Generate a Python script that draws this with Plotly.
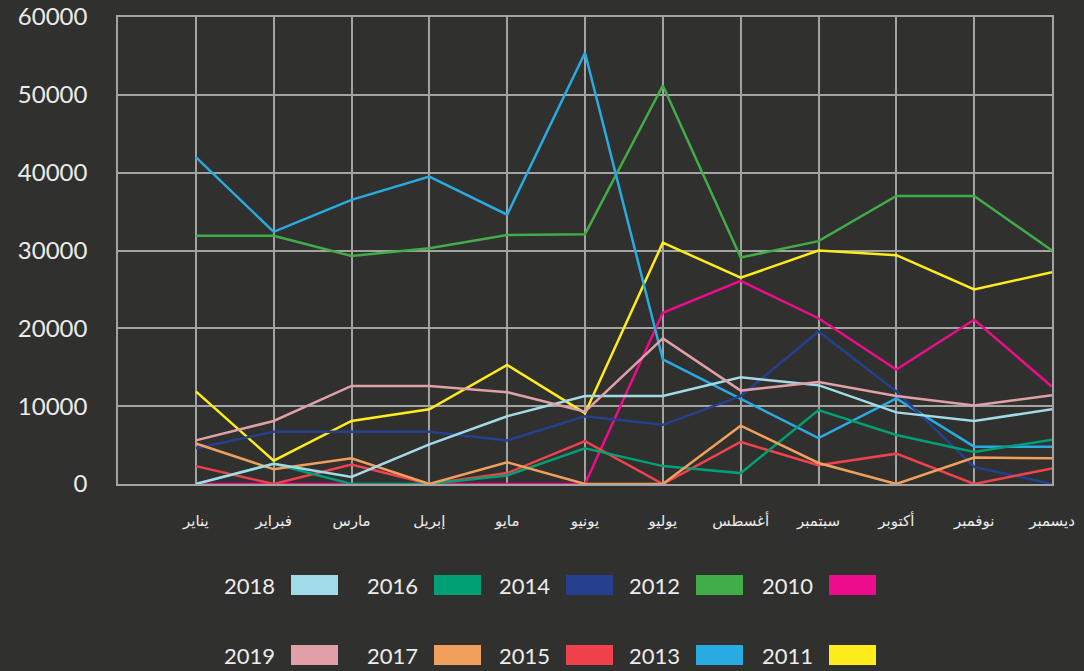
import plotly.graph_objects as go

months = ["يناير", "فبراير", "مارس", "إبريل", "مايو", "يونيو",
          "يوليو", "أغسطس", "سبتمبر", "أكتوبر", "نوفمبر", "ديسمبر"]

y2010 = [0, 0, 0, 0, 0, 0, 22000, 26100, 21300, 14700, 21100, 12500]
y2011 = [11900, 3000, 8100, 9600, 15300, 9100, 31000, 26500, 30000, 29400, 25000, 27200]
y2012 = [31900, 31900, 29300, 30300, 32000, 32100, 51200, 29100, 31200, 37000, 37000, 30000]
y2013 = [42000, 32400, 36500, 39500, 34600, 55400, 16000, 11000, 5900, 11000, 4800, 4800]
y2014 = [4600, 6700, 6700, 6700, 5600, 8700, 7600, 11300, 19600, 11900, 2200, 0]
y2015 = [2300, 0, 2500, 0, 1400, 5500, 0, 5400, 2400, 3900, 0, 2000]
y2016 = [0, 2600, 0, 0, 1100, 4600, 2300, 1400, 9500, 6300, 4100, 5700]
y2017 = [5200, 1900, 3300, 0, 2800, 0, 0, 7500, 2700, 0, 3400, 3300]
y2018 = [0, 2600, 900, 5100, 8700, 11300, 11300, 13700, 12700, 9200, 8100, 9600]
y2019 = [5600, 8100, 12600, 12600, 11800, 9300, 18700, 12000, 13100, 11300, 10100, 11400]

years = ["2010", "2011", "2012", "2013", "2014", "2015", "2016", "2017", "2018", "2019"]
series = [y2010, y2011, y2012, y2013, y2014, y2015, y2016, y2017, y2018, y2019]
colors = ["#ec0c8c", "#ffec1c", "#41ad49", "#29abe2", "#25408f",
          "#ef424d", "#00a075", "#f1a05c", "#a2dbe8", "#e0a0a8"]

y_ticks = [0, 10000, 20000, 30000, 40000, 50000, 60000]

BG = "#30302e"
GRID = "#a3a3a3"
TXT = "#ececec"

fig = go.Figure()
for yr, vals, col in zip(years, series, colors):
    fig.add_trace(go.Scatter(x=months, y=vals, mode="lines", name=yr,
                             line=dict(color=col, width=2.5), showlegend=False))

W, H = 1084, 671
L, R, T, B = 118, 32, 17, 187
pw, ph = W - L - R, H - T - B

# Custom legend: text then coloured box (RTL style)
legend_rows = [["2018", "2016", "2014", "2012", "2010"],
               ["2019", "2017", "2015", "2013", "2011"]]
box_left_px = [291, 434, 566, 696, 829]
row_center_px = [585, 655]
box_w, box_h = 47, 20
shapes = []
annotations = []
for r, row in enumerate(legend_rows):
    cy = row_center_px[r]
    for c, yr in enumerate(row):
        col = colors[years.index(yr)]
        x0 = box_left_px[c]
        shapes.append(dict(type="rect", xref="paper", yref="paper",
                           x0=(x0 - L) / pw, x1=(x0 + box_w - L) / pw,
                           y0=(H - B - (cy + box_h / 2)) / ph,
                           y1=(H - B - (cy - box_h / 2)) / ph,
                           fillcolor=col, line=dict(width=0)))
        annotations.append(dict(text=yr, xref="paper", yref="paper",
                                x=(x0 - 14 - L) / pw, y=(H - B - cy) / ph,
                                xanchor="right", yanchor="middle", showarrow=False,
                                font=dict(family="Lato, Open Sans, sans-serif", size=22, color=TXT)))

fig.update_layout(
    width=W, height=H,
    margin=dict(l=L, r=R, t=T, b=B, autoexpand=False),
    paper_bgcolor=BG, plot_bgcolor=BG,
    shapes=shapes, annotations=annotations,
    xaxis=dict(type="category", range=[-1, 11], showgrid=True, gridcolor=GRID, gridwidth=1.5,
               showline=True, linecolor=GRID, linewidth=1.5, mirror=True, automargin=False,
               ticks="", ticklabelstandoff=22,
               tickfont=dict(family="DejaVu Sans, sans-serif", size=15, color=TXT)),
    yaxis=dict(range=[0, 60000], tickvals=y_ticks, tickformat="d", showgrid=True,
               gridcolor=GRID, gridwidth=1.5, automargin=False,
               zeroline=False, showline=True, linecolor=GRID, linewidth=1.5, mirror=True,
               ticks="", ticklabelstandoff=24,
               tickfont=dict(family="Lato, Open Sans, sans-serif", size=24, color=TXT)),
)

fig.write_html("out.html", config={"displayModeBar": False},
               post_script="document.body.style.margin='0';document.body.style.background='#30302e';")
